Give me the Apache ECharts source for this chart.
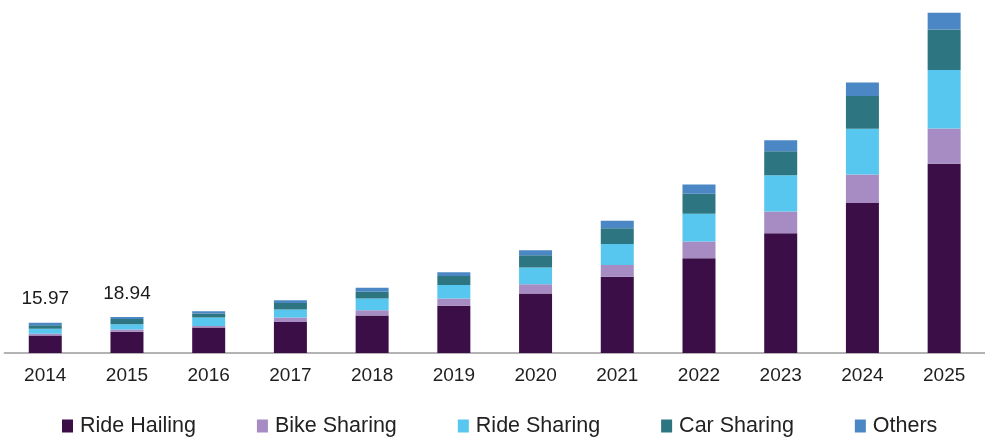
<!DOCTYPE html>
<html>
<head>
<meta charset="utf-8">
<script src="https://cdn.jsdelivr.net/npm/echarts@6/dist/echarts.min.js"></script>
<style>
  html, body { margin: 0; padding: 0; background: #fff; }
  #chart { width: 985px; height: 439px; }
</style>
</head>
<body>
<div id="chart"></div>
<script>
  // categories
  const years = ['2014', '2015', '2016', '2017', '2018', '2019', '2020', '2021', '2022', '2023', '2024', '2025']
  // series values
  const rideHailing = [9.2, 11.2, 13.4, 16.4, 19.8, 24.9, 31.4, 40.3, 50.0, 63.2, 79.2, 99.9]
  const bikeSharing = [0.9, 1.2, 0.9, 2.3, 2.8, 3.9, 4.9, 6.2, 8.8, 11.5, 15.0, 18.6]
  const rideSharing = [2.7, 2.8, 4.4, 4.2, 6.2, 7.1, 8.8, 11.1, 14.7, 19.1, 24.2, 30.9]
  const carSharing = [1.8, 2.7, 2.1, 3.5, 3.5, 4.8, 6.5, 8.3, 10.6, 12.7, 17.3, 21.4]
  const others = [1.37, 1.04, 1.2, 1.4, 2.1, 1.9, 2.7, 3.9, 4.8, 5.8, 7.1, 8.8]
  // years that carry a total label
  const labelledYears = ['2014', '2015']

  const fontFamily = '"Liberation Sans", Arial, sans-serif'
  const colors = ['#3b0e47', '#a78bc3', '#58c7ef', '#2d7681', '#4b87c4']

  const chart = echarts.init(document.getElementById('chart'))

  function total(i) {
    return rideHailing[i] + bikeSharing[i] + rideSharing[i] + carSharing[i] + others[i]
  }

  function makeSeries(name, data, color, withLabel) {
    let s = {
      name: name,
      type: 'bar',
      stack: 'total',
      barWidth: 33,
      data: data,
      itemStyle: {color: color},
      emphasis: {disabled: true}
    }
    if (withLabel) {
      s.label = {
        show: true,
        position: 'top',
        distance: 14,
        fontFamily: fontFamily,
        fontSize: 19,
        color: '#1a1a1a',
        formatter: function (p) {
          return labelledYears.indexOf(p.name) >= 0 ? total(p.dataIndex).toFixed(2) : ''
        }
      }
    }
    return s
  }

  const option = {
    animation: false,
    color: colors,
    grid: {left: 4.4, width: 986.6, top: 12, bottom: 86},
    legend: {
      left: 62,
      top: 415,
      padding: 0,
      icon: 'rect',
      itemWidth: 11,
      itemHeight: 13,
      itemGap: 61,
      textStyle: {fontFamily: fontFamily, fontSize: 21.5, color: '#222', padding: [0, 0, 0, 2]},
      data: ['Ride Hailing', 'Bike Sharing', 'Ride Sharing', 'Car Sharing', 'Others']
    },
    xAxis: {
      type: 'category',
      data: years,
      axisTick: {show: false},
      axisLine: {lineStyle: {color: '#9a9a9a', width: 1.5}},
      axisLabel: {fontFamily: fontFamily, fontSize: 19, color: '#1e1e1e', margin: 13}
    },
    yAxis: {
      type: 'value',
      min: 0,
      max: 180,
      show: false,
      splitLine: {show: false}
    },
    series: [
      makeSeries('Ride Hailing', rideHailing, colors[0]),
      makeSeries('Bike Sharing', bikeSharing, colors[1]),
      makeSeries('Ride Sharing', rideSharing, colors[2]),
      makeSeries('Car Sharing', carSharing, colors[3]),
      makeSeries('Others', others, colors[4], true)
    ]
  }
  chart.setOption(option)
</script>
</body>
</html>
